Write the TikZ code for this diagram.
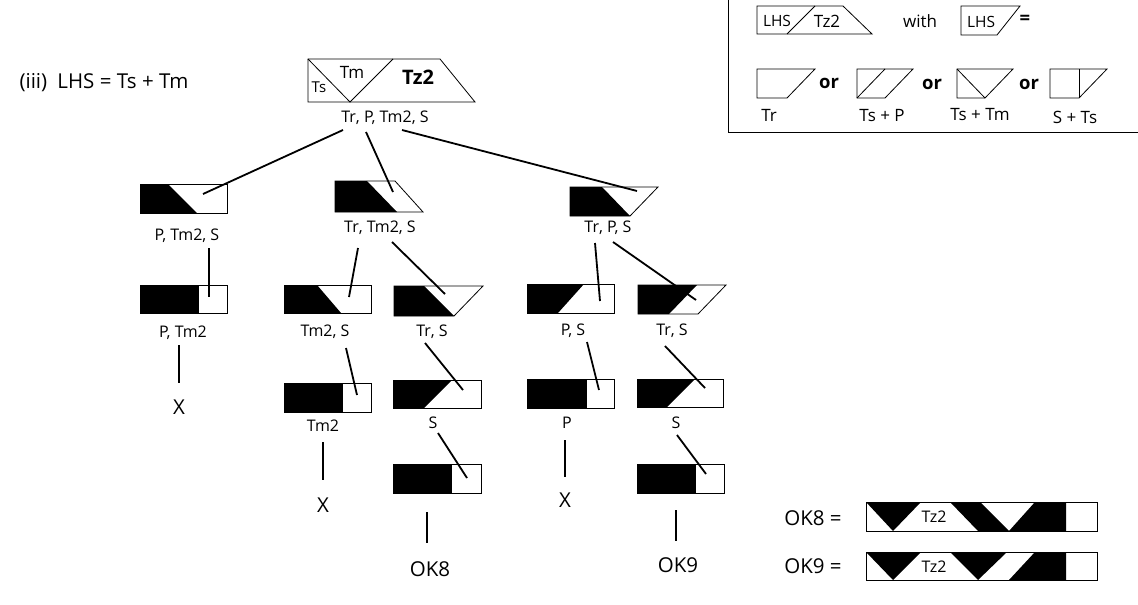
\documentclass[tikz,border=0pt]{standalone}
\usepackage{fontspec}
\setmainfont{Open Sans}
\begin{document}
\begin{tikzpicture}[x=1pt,y=-1pt,
  conn/.style={line width=1.8pt},
  edge/.style={line width=0.8pt, line join=miter},
  blk/.style={fill=black, draw=none},
  lbl/.style={inner sep=0pt, font=\fontsize{16}{18}\selectfont},
  big/.style={inner sep=0pt, font=\fontsize{20.5}{24}\selectfont},
  leg/.style={inner sep=0pt, font=\fontsize{17}{20}\selectfont},
  orr/.style={inner sep=0pt, font=\fontsize{18.5}{20}\selectfont\bfseries}]
\useasboundingbox (0,0) rectangle (1138,605);

% ---------- title
\node[big] (title) at (104,83) {(iii)\enspace LHS = Ts + Tm};

% ---------- legend
\draw[edge] (728,-2) -- (728,132) -- (1140,132);
\draw[edge] (757,6) -- (843,6) -- (872,34) -- (757,34) -- cycle;
\draw[edge] (787,34) -- (815,6);
\node[inner sep=0pt, font=\fontsize{15.5}{18}\selectfont] (legLHS) at (777,21) {LHS};
\node[inner sep=0pt, font=\fontsize{17}{18}\selectfont] (legTz) at (827,21) {Tz2};
\node[leg] (with) at (920,21) {with};
\draw[edge] (961,6) -- (1020,6) -- (997,35) -- (961,35) -- cycle;
\node[inner sep=0pt, font=\fontsize{15.5}{18}\selectfont] (legLHSb) at (981,22) {LHS};
\node[orr] (eq) at (1025,20) {=};

\draw[edge] (757,69) -- (815,69) -- (787,98) -- (757,98) -- cycle;
\node[leg] (lTr) at (769,115) {Tr};
\node[orr] (or1) at (829,83) {or};
\draw[edge] (857,69) -- (913,69) -- (885,98) -- (857,98) -- cycle;
\draw[edge] (857,98) -- (885,69);
\node[leg] (lTsP) at (882,116) {Ts + P};
\node[orr] (or2) at (932,84) {or};
\draw[edge] (957,69) -- (1013,69) -- (985,98) -- (957,98) -- cycle;
\draw[edge] (957,69) -- (985,98);
\node[leg] (lTsTm) at (980,115) {Ts + Tm};
\node[orr] (or3) at (1029,84) {or};
\draw[edge] (1050,69) -- (1107,69) -- (1079,98) -- (1050,98) -- cycle;
\draw[edge] (1079,69) -- (1079,98);
\node[leg] (lSTs) at (1075,117) {S + Ts};

% ---------- root shape
\draw[edge] (308,59) -- (440,59) -- (475,102) -- (308,102) -- cycle;
\draw[edge] (308,59) -- (350,102) -- (393,59);
\node[inner sep=0pt, font=\fontsize{15}{16}\selectfont] (rTs) at (319,87) {Ts};
\node[inner sep=0pt, font=\fontsize{17}{18}\selectfont] (rTm) at (352,72) {Tm};
\node[inner sep=0pt, font=\fontsize{20}{22}\selectfont\bfseries] (rTz) at (418,77) {Tz2};
\node[lbl] (lab0) at (385,118) {Tr, P, Tm2, S};

\coordinate (r1) at (343,130); \coordinate (r2) at (366,132); \coordinate (r3) at (402,130);
\coordinate (Ain) at (203,194); \coordinate (Bin) at (393,192); \coordinate (Cin) at (637,191);

% ---------- level 1
% A
\fill[blk] (140,184) -- (168,184) -- (197,213) -- (140,213) -- cycle;
\draw[edge] (140,184) rectangle (227,213);
\node[lbl] (labA) at (187,236) {P, Tm2, S};
% B
\fill[blk] (335,181) -- (367,181) -- (397,212) -- (335,212) -- cycle;
\draw[edge] (335,181) -- (395,181) -- (423,212) -- (335,212) -- cycle;
\node[lbl] (labB) at (380,228) {Tr, Tm2, S};
% C
\fill[blk] (570,187) -- (602,187) -- (630,216) -- (570,216) -- cycle;
\draw[edge] (570,187) -- (658,187) -- (630,216) -- (570,216) -- cycle;
\node[lbl] (labC) at (608,228) {Tr, P, S};

\draw[conn] (r1) -- (Ain);
\draw[conn] (r2) -- (Bin);
\draw[conn] (r3) -- (Cin);

% ---------- level 2
% A1
\fill[blk] (140,285) rectangle (199,313);
\draw[edge] (140,285) rectangle (227,313);
\node[lbl] (labA1) at (183,333) {P, Tm2};
\coordinate (a0) at (209,248); \coordinate (a1) at (209,297);
\draw[conn] (a0) -- (a1);
\coordinate (xa0) at (179,345); \coordinate (xa1) at (179,383);
\draw[conn] (xa0) -- (xa1);
\node[big] (XA) at (179,407) {X};

% B1
\fill[blk] (284,285) -- (317,285) -- (341,313) -- (284,313) -- cycle;
\draw[edge] (284,285) rectangle (371,313);
\node[lbl] (labB1) at (325,332) {Tm2, S};
\coordinate (b10) at (358,248); \coordinate (b11) at (349,297);
\draw[conn] (b10) -- (b11);
% B2
\fill[blk] (394,286) -- (424,286) -- (454,316) -- (394,316) -- cycle;
\draw[edge] (394,286) -- (483,286) -- (454,316) -- (394,316) -- cycle;
\node[lbl] (labB2) at (432,332) {Tr, S};
\coordinate (b20) at (392,242); \coordinate (b21) at (445,294);
\draw[conn] (b20) -- (b21);

% C1
\fill[blk] (527,284) -- (584,284) -- (558,313) -- (527,313) -- cycle;
\draw[edge] (527,284) rectangle (614,313);
\node[lbl] (labC1) at (573,331) {P, S};
\coordinate (c10) at (595,243); \coordinate (c11) at (600,301);
\draw[conn] (c10) -- (c11);
% C2
\fill[blk] (638,285) -- (697,285) -- (669,314) -- (638,314) -- cycle;
\draw[edge] (638,285) -- (726,285) -- (698,314) -- (638,314) -- cycle;
\node[lbl] (labC2) at (672,331) {Tr, S};
\coordinate (c20) at (613,242); \coordinate (c21) at (696,300);
\draw[conn] (c20) -- (c21);

% ---------- level 3
% B11
\fill[blk] (284,383) rectangle (343,412);
\draw[edge] (284,383) rectangle (371,412);
\node[lbl] (labB11) at (323,426) {Tm2};
\coordinate (b110) at (346,348); \coordinate (b111) at (357,395);
\draw[conn] (b110) -- (b111);
\coordinate (xb0) at (323,442); \coordinate (xb1) at (323,480);
\draw[conn] (xb0) -- (xb1);
\node[big] (XB) at (323,505) {X};

% B21
\fill[blk] (393,380) -- (452,380) -- (424,408) -- (393,408) -- cycle;
\draw[edge] (393,380) rectangle (481,408);
\node[lbl] (labB21) at (433,423) {S};
\coordinate (b210) at (425,343); \coordinate (b211) at (463,390);
\draw[conn] (b210) -- (b211);

% C11
\fill[blk] (527,379) rectangle (587,408);
\draw[edge] (527,379) rectangle (614,408);
\node[lbl] (labC11) at (567,423) {P};
\coordinate (c110) at (587,342); \coordinate (c111) at (599,390);
\draw[conn] (c110) -- (c111);
\coordinate (xc0) at (565,440); \coordinate (xc1) at (565,477);
\draw[conn] (xc0) -- (xc1);
\node[big] (XC) at (565,500) {X};

% C21
\fill[blk] (637,379) -- (695,379) -- (667,407) -- (637,407) -- cycle;
\draw[edge] (637,379) rectangle (723,407);
\node[lbl] (labC21) at (676,423) {S};
\coordinate (c210) at (665,346); \coordinate (c211) at (705,388);
\draw[conn] (c210) -- (c211);

% ---------- level 4
% B211
\fill[blk] (393,464) rectangle (452,493);
\draw[edge] (393,464) rectangle (481,493);
\coordinate (b2110) at (438,433); \coordinate (b2111) at (467,478);
\draw[conn] (b2110) -- (b2111);
\coordinate (ok80) at (427,512); \coordinate (ok81) at (427,543);
\draw[conn] (ok80) -- (ok81);
\node[big] (OK8) at (430,569) {OK8};

% C211
\fill[blk] (637,464) rectangle (696,493);
\draw[edge] (637,464) rectangle (724,493);
\coordinate (c2110) at (677,435); \coordinate (c2111) at (706,474);
\draw[conn] (c2110) -- (c2111);
\coordinate (ok90) at (676,510); \coordinate (ok91) at (676,541);
\draw[conn] (ok90) -- (ok91);
\node[big] (OK9) at (678,565) {OK9};

% ---------- OK strips
\node[big] (ok8eq) at (813,518) {OK8 =};
\fill[blk] (866,502) -- (921,502) -- (893,531) -- cycle;
\fill[blk] (950,502) -- (980,502) -- (1009,531) -- (1035,502) -- (1066,502) -- (1066,531) -- (978,531) -- cycle;
\draw[edge] (866,502) rectangle (1097,531);
\node[lbl] (tz8) at (934,517) {Tz2};

\node[big] (ok9eq) at (813,566) {OK9 =};
\fill[blk] (866,552) -- (921,552) -- (893,580) -- cycle;
\fill[blk] (950,552) -- (1007,552) -- (978,580) -- cycle;
\fill[blk] (1009,580) -- (1035,552) -- (1066,552) -- (1066,580) -- cycle;
\draw[edge] (866,552) rectangle (1097,580);
\node[lbl] (tz9) at (934,567) {Tz2};
\end{tikzpicture}
\end{document}
